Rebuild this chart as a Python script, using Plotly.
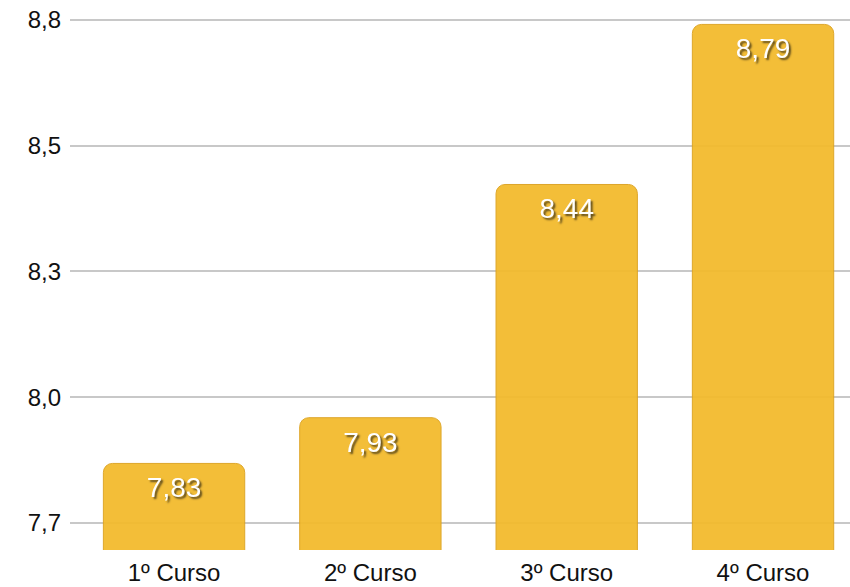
import plotly.graph_objects as go

categories = ["1º Curso", "2º Curso", "3º Curso", "4º Curso"]
values = [7.83, 7.93, 8.44, 8.79]
tick_values = [7.7, 7.975, 8.25, 8.525, 8.8]
tick_labels = ["7,7", "8,0", "8,3", "8,5", "8,8"]

fig = go.Figure(
    go.Bar(
        x=categories,
        y=values,
        marker=dict(color="#F3BB2E", line=dict(color="#DCA21F", width=1), cornerradius=9),
        opacity=0.95,
        texttemplate="%{y:.2f}",
        textposition="inside",
        insidetextanchor="end",
        textangle=0,
        textfont=dict(family="Liberation Sans", size=28, color="white",
                      shadow="2px 2px 2px rgba(0,0,0,0.65)"),
        hoverinfo="x+y",
    )
)

fig.update_layout(
    width=850,
    height=587,
    margin=dict(l=70, r=0, t=0, b=37),
    paper_bgcolor="white",
    plot_bgcolor="white",
    separators=", ",
    bargap=0.28,
    showlegend=False,
    font=dict(family="Liberation Sans", size=24, color="#111111"),
    xaxis=dict(
        range=[-0.53, 3.443],
        showgrid=False,
        zeroline=False,
        showline=False,
        ticks="",
        ticklabelstandoff=6,
        tickfont=dict(size=24, color="#111111"),
    ),
    yaxis=dict(
        range=[7.6407, 8.8434],
        tickvals=tick_values,
        ticktext=tick_labels,
        showgrid=True,
        gridcolor="#C8C8C8",
        gridwidth=2,
        zeroline=False,
        showline=False,
        ticks="",
        ticklabelstandoff=8,
        tickfont=dict(size=24, color="#111111"),
    ),
)

fig.write_html("out.html")
